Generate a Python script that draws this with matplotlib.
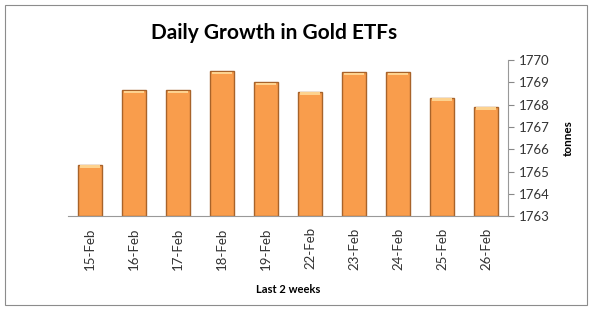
import matplotlib
matplotlib.use("Agg")
import matplotlib.pyplot as plt
from matplotlib.patches import Rectangle

dates = ["15-Feb", "16-Feb", "17-Feb", "18-Feb", "19-Feb", "22-Feb", "23-Feb", "24-Feb", "25-Feb", "26-Feb"]
tonnes = [1765.3, 1768.65, 1768.65, 1769.5, 1769.0, 1768.57, 1769.45, 1769.45, 1768.3, 1767.9]
yticks = [1763, 1764, 1765, 1766, 1767, 1768, 1769, 1770]

plt.rcParams['font.family'] = ['Lato', 'DejaVu Sans']

fig = plt.figure(figsize=(5.92, 3.11), dpi=100)
fig.patches.append(Rectangle((0.009, 0.018), 0.982, 0.965, transform=fig.transFigure,
                             fill=False, edgecolor='#8c8c8c', linewidth=0.8))
ax = fig.add_axes([0.115, 0.305, 0.743, 0.502])
x = list(range(len(dates)))
base = yticks[0]
ax.bar(x, [v - base for v in tonnes], bottom=base, width=0.55, color='#F99D4C',
       edgecolor='#A8632A', linewidth=1.0)
# light highlight cap at the top of each bar
ax.bar(x, [0.12] * len(x), bottom=[v - 0.14 for v in tonnes], width=0.45,
       color='#FDD28F', linewidth=0)
ax.set_ylim(yticks[0], yticks[-1])
ax.set_xlim(-0.5, len(dates) - 0.5)
ax.set_yticks(yticks)
ax.yaxis.tick_right()
ax.yaxis.set_label_position('right')
ax.set_xticks(x)
ax.set_xticklabels(dates, rotation=90, fontsize=9.5, color='#333333')
ax.tick_params(axis='x', length=0, pad=8)
ax.tick_params(axis='y', labelsize=9.5, colors='#888888', labelcolor='#333333', length=4, pad=4)
for s in ['top', 'left']:
    ax.spines[s].set_visible(False)
ax.spines['bottom'].set_color('#999999')
ax.spines['right'].set_color('#999999')
ax.set_ylabel('tonnes', fontsize=8.5, fontweight='bold', labelpad=9)
ax.set_xlabel('Last 2 weeks', fontsize=8, fontweight='bold', labelpad=10)
fig.text(0.463, 0.893, 'Daily Growth in Gold ETFs', ha='center', va='center',
         fontsize=15, fontweight='bold')
fig.savefig('out.png', dpi=100)
